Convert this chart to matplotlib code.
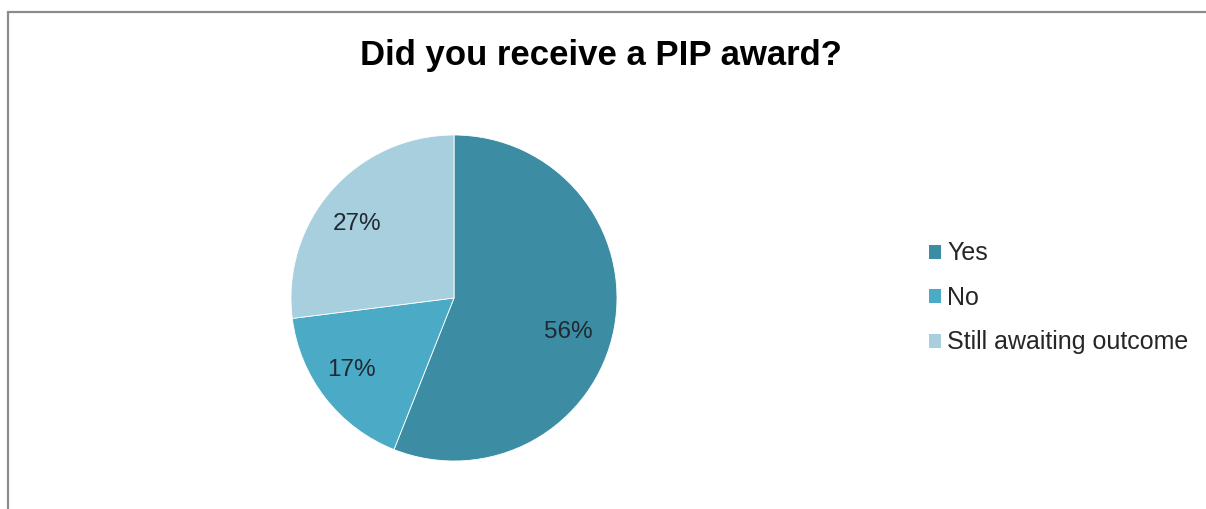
import numpy as np
import matplotlib
matplotlib.use("Agg")
import matplotlib.pyplot as plt
from matplotlib.patches import Rectangle

categories = ["Yes", "No", "Still awaiting outcome"]
values = [56, 17, 27]
colors = ["#3C8CA4", "#4BABC7", "#A7CFDE"]
title = "Did you receive a PIP award?"

plt.rcParams['font.family'] = ['Liberation Sans', 'DejaVu Sans']

W, H = 1206, 509
fig = plt.figure(figsize=(W / 100, H / 100), dpi=100)
fig.patch.set_facecolor("white")

# outer chart border
fig.add_artist(Rectangle((7.5 / W, -0.1), 1.2, 1 - 11.5 / H + 0.1,
                         transform=fig.transFigure, fill=False,
                         edgecolor="#8c8c8c", linewidth=1.6))

cx, cy, R = 454, 298, 163
ax = fig.add_axes([(cx - R) / W, 1 - (cy + R) / H, 2 * R / W, 2 * R / H])
wedges, texts, autotexts = ax.pie(
    values, colors=colors, startangle=90, counterclock=False,
    autopct=lambda p: f"{p:.0f}%", pctdistance=0.73,
    wedgeprops=dict(edgecolor="white", linewidth=0.6),
    textprops=dict(fontsize=17.5, color="#1f2a33"))
ax.set_xlim(-1, 1)
ax.set_ylim(-1, 1)
ax.set_axis_off()

# nudge percentage labels (Excel-like placement): Yes, No, Still
ang_shift = [-6, -3, 4]
rad = [0.73, 0.77, 0.745]
for w, t, da, r in zip(wedges, autotexts, ang_shift, rad):
    a = np.deg2rad((w.theta1 + w.theta2) / 2 + da)
    t.set_position((r * np.cos(a), r * np.sin(a)))

fig.text(601 / W, 1 - 56 / H, title, ha="center", va="center",
         fontsize=25, fontweight="bold", color="black")

leg = fig.legend(wedges, categories, loc="center left",
                 bbox_to_anchor=(906 / W, 1 - 298 / H),
                 frameon=False, fontsize=18, handlelength=0.5,
                 handleheight=0.5, handletextpad=0.25, labelspacing=0.82,
                 labelcolor="#262626")
for h in leg.legend_handles:
    h.set_edgecolor("none")

fig.savefig("out.png", dpi=100, facecolor="white")
